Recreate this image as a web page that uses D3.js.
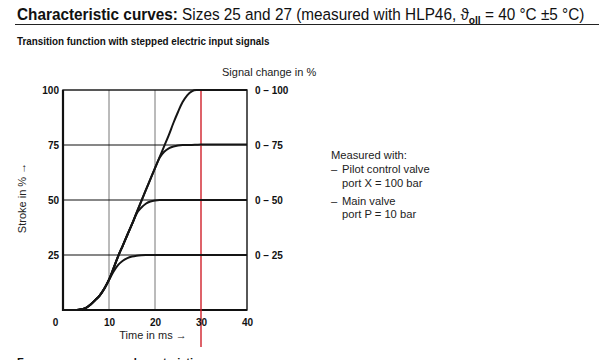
<!DOCTYPE html>
<html>
<head>
<meta charset="utf-8">
<script src="https://cdn.jsdelivr.net/npm/d3@7"></script>
<style>
  body { margin: 0; background: #fff; }
  svg { display: block; font-family: "Liberation Sans", Arial, sans-serif; }
</style>
</head>
<body>
<svg id="chart"></svg>
<script>
// data
const timeMs = [0, 3, 4, 5, 6, 7, 8, 9, 10, 11, 12, 13, 14, 15, 16, 17, 18, 19, 20, 21, 22, 23, 24, 25, 26, 27, 28, 29, 30, 40];
const stroke0to100 = [0, 0, 0.3, 1, 2.5, 4.5, 6.7, 9.8, 13.8, 19, 24.5, 29.3, 34.2, 39, 44.3, 49.4, 54.5, 59.5, 64.5, 69.5, 74.5, 79.5, 85, 90, 94.5, 97.6, 99.4, 100, 100, 100];
const stroke0to75 = [0, 0, 0.3, 1, 2.5, 4.5, 6.7, 9.8, 13.8, 19, 24.5, 29.3, 34.2, 39, 44.3, 49.4, 54.5, 59.5, 64.5, 69.2, 71.9, 73.5, 74.3, 74.8, 75, 75, 75, 75.1, 75.2, 75.2];
const stroke0to50 = [0, 0, 0.3, 1, 2.5, 4.5, 6.7, 9.8, 13.8, 19, 24.5, 29.3, 34.2, 39, 43.8, 46.5, 48.3, 49.3, 49.8, 50, 50, 50, 50, 50, 50, 50, 50, 50, 50, 50];
const stroke0to25 = [0, 0, 0.3, 1, 2.5, 4.5, 6.7, 9.8, 13.6, 17.5, 20.5, 22.4, 23.6, 24.3, 24.7, 24.9, 25, 25, 25, 25, 25, 25, 25, 25, 25, 25, 25, 25, 25, 25];
const seriesLabels = ["0 – 100", "0 – 75", "0 – 50", "0 – 25"];
const seriesEnd = [100, 75, 50, 25];
const xTicks = [0, 10, 20, 30, 40];
const yTicks = [25, 50, 75, 100];
const markTime = 30;

const width = 599;
const height = 360;
const svg = d3.select("#chart").attr("width", width).attr("height", height);

const x = d3.scaleLinear().domain([0, 40]).range([63, 247]);
const y = d3.scaleLinear().domain([0, 100]).range([310, 90]);

// fit a text into a given width by squeezing it horizontally
function fitWidth(sel, left, w) {
  const bw = sel.node().getBBox().width;
  const k = Math.min(1, w / bw);
  sel.attr("transform", `translate(${left},0) scale(${k},1)`).attr("x", 0);
}

// title
const title = svg.append("text").attr("y", 20).attr("font-size", 16.5).attr("fill", "#111");
title.append("tspan").attr("font-weight", "bold").text("Characteristic curves:");
title.append("tspan").text(" Sizes 25 and 27 (measured with HLP46, ϑ");
title.append("tspan").attr("font-size", 11).attr("dy", 4).attr("font-weight", "bold").text("oll");
title.append("tspan").attr("dy", -4).text(" = 40 °C ±5 °C)");
fitWidth(title, 17, 568);
svg.append("line").attr("x1", 15).attr("x2", width).attr("y1", 24.5).attr("y2", 24.5)
  .attr("stroke", "#222").attr("stroke-width", 1);

const sub = svg.append("text").attr("y", 45).attr("font-size", 10.2).attr("font-weight", "bold")
  .attr("fill", "#111").text("Transition function with stepped electric input signals");
fitWidth(sub, 17, 253);

// grid
svg.append("g").selectAll("line").data([10, 20]).join("line")
  .attr("x1", d => x(d)).attr("x2", d => x(d)).attr("y1", y(100)).attr("y2", y(0))
  .attr("stroke", "#777").attr("stroke-width", 1);
svg.append("g").selectAll("line").data([25, 50, 75]).join("line")
  .attr("x1", x(0)).attr("x2", x(40)).attr("y1", d => y(d)).attr("y2", d => y(d))
  .attr("stroke", "#111").attr("stroke-width", 1.1);

// frame
svg.append("rect").attr("x", x(0)).attr("y", y(100)).attr("width", x(40) - x(0)).attr("height", y(0) - y(100))
  .attr("fill", "none").attr("stroke", "#111").attr("stroke-width", 1.4);
svg.append("path").attr("d", `M${x(0)},${y(100)}V${y(0)}H${x(40)}`)
  .attr("fill", "none").attr("stroke", "#111").attr("stroke-width", 2.2);

// red marker
svg.append("line").attr("x1", x(markTime)).attr("x2", x(markTime)).attr("y1", y(100)).attr("y2", 347)
  .attr("stroke", "#d0202a").attr("stroke-width", 1.4);

// curves
const line = d3.line().x(d => x(d[0])).y(d => y(d[1])).curve(d3.curveMonotoneX);
[stroke0to100, stroke0to75, stroke0to50, stroke0to25].forEach(vals => {
  svg.append("path").datum(timeMs.map((t, i) => [t, vals[i]]))
    .attr("d", line).attr("fill", "none").attr("stroke", "#151515").attr("stroke-width", 2);
});

// axes
const yAxis = svg.append("g").attr("transform", `translate(${x(0) - 4},0)`)
  .call(d3.axisLeft(y).tickValues(yTicks).tickSize(0).tickPadding(0));
yAxis.select(".domain").remove();
yAxis.selectAll("text").attr("font-size", 10).attr("font-weight", "bold").attr("fill", "#111")
  .attr("font-family", "Liberation Sans, Arial, sans-serif");

const xAxis = svg.append("g").attr("transform", `translate(0,${y(0) + 9})`)
  .call(d3.axisBottom(x).tickValues(xTicks).tickSize(0).tickPadding(0));
xAxis.select(".domain").remove();
xAxis.selectAll("text").attr("font-size", 10).attr("font-weight", "bold").attr("fill", "#111")
  .attr("font-family", "Liberation Sans, Arial, sans-serif")
  .attr("dx", d => d === 0 ? -8 : 0);

// right labels
svg.append("g").selectAll("text").data(seriesLabels).join("text")
  .attr("x", x(40) + 8).attr("y", (d, i) => y(seriesEnd[i])).attr("dy", "0.35em")
  .attr("font-size", 10).attr("font-weight", "bold").attr("fill", "#111").text(d => d);

svg.append("text").attr("x", 222).attr("y", 76).attr("font-size", 11).attr("fill", "#222")
  .text("Signal change in %");
svg.append("text").attr("x", 153).attr("y", 339).attr("font-size", 11).attr("fill", "#222")
  .attr("text-anchor", "middle").text("Time in ms →");
svg.append("text").attr("transform", "translate(26,198) rotate(-90)").attr("font-size", 11).attr("fill", "#222")
  .attr("text-anchor", "middle").text("Stroke in % →");

// note
const note = svg.append("g").attr("font-size", 11.2).attr("fill", "#222");
note.append("text").attr("x", 331).attr("y", 159).text("Measured with:");
note.append("text").attr("x", 331).attr("y", 173).text("–");
note.append("text").attr("x", 342).attr("y", 173).text("Pilot control valve");
note.append("text").attr("x", 342).attr("y", 187).text("port X = 100 bar");
note.append("text").attr("x", 331).attr("y", 205).text("–");
note.append("text").attr("x", 342).attr("y", 205).text("Main valve");
note.append("text").attr("x", 342).attr("y", 218).text("port P = 10 bar");

svg.append("text").attr("x", 17).attr("y", 366).attr("font-size", 11).attr("font-weight", "bold")
  .attr("fill", "#111").text("Frequency response characteristic curves");
</script>
</body>
</html>
